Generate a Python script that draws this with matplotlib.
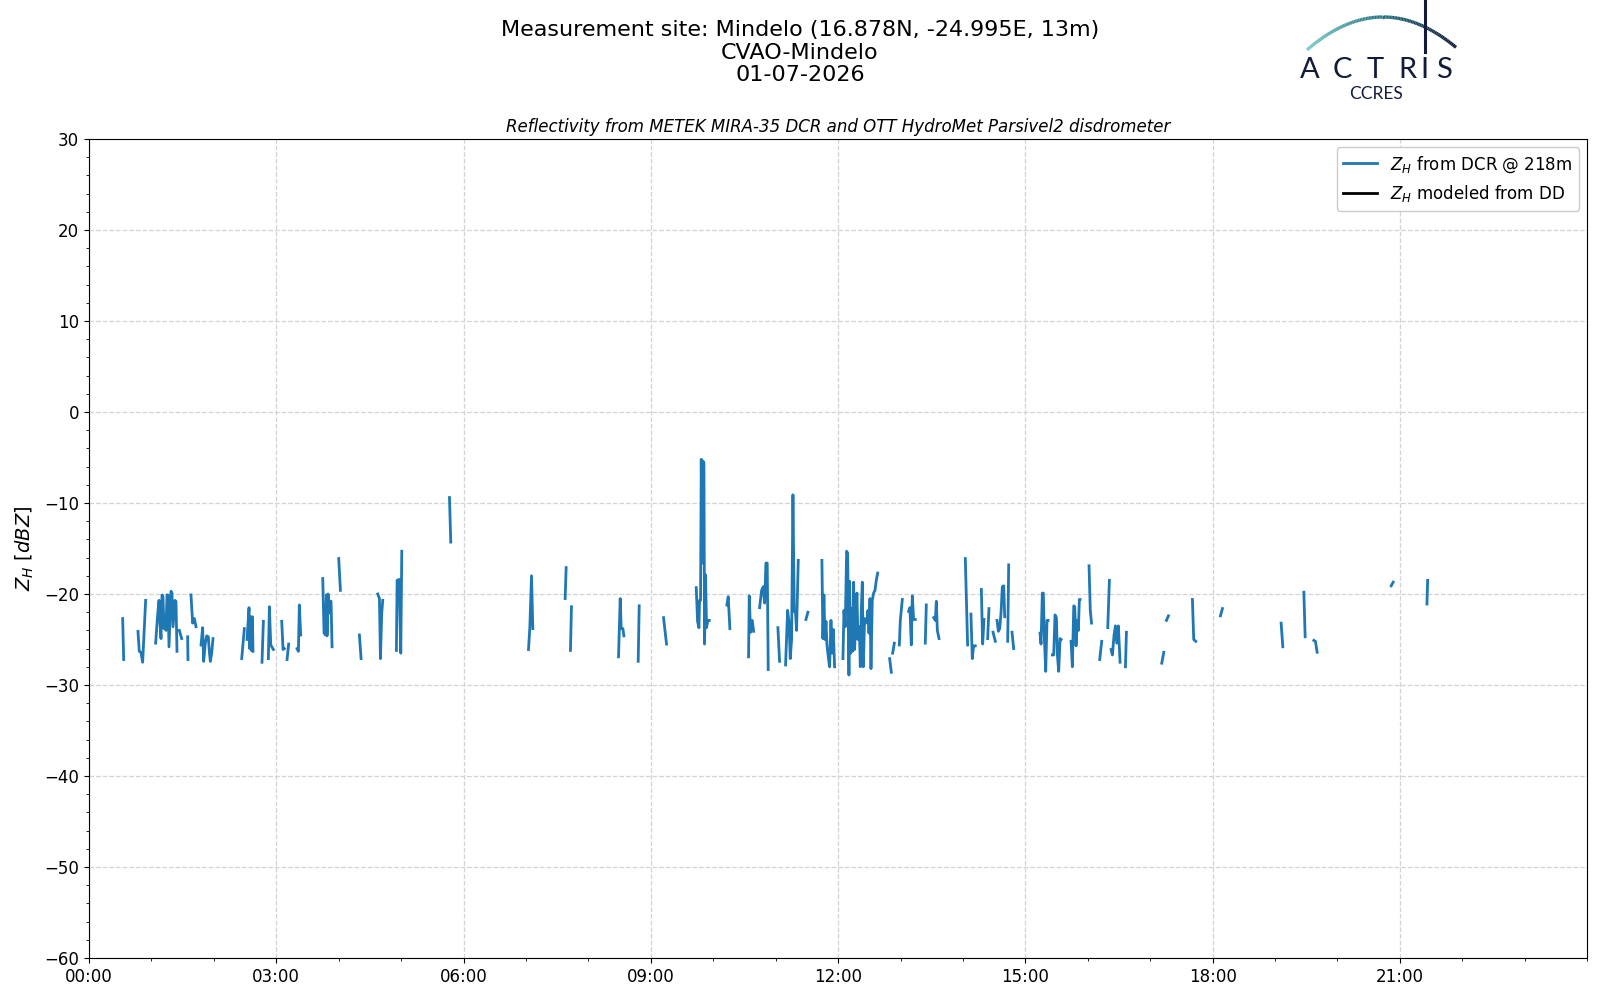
import numpy as np
import matplotlib
matplotlib.use("Agg")
import matplotlib.pyplot as plt
import matplotlib.dates as mdates
from matplotlib.collections import LineCollection
from datetime import datetime, timedelta

# site / meta
site_name = "Mindelo"
site_lat, site_lon, site_alt = 16.878, -24.995, 13
station = "CVAO-Mindelo"
day = datetime(2026, 7, 1)
radar_gate = 218

# DCR reflectivity: hours after midnight and Z_H [dBZ], one list per rain burst
seg_hours = [
    [0.540, 0.556],
    [0.785, 0.806, 0.833, 0.860, 0.908],
    [1.068, 1.100, 1.122, 1.138, 1.154, 1.170, 1.186, 1.202, 1.218, 1.234, 1.250,
     1.266, 1.282, 1.298, 1.314, 1.330, 1.346, 1.362, 1.378, 1.394, 1.410],
    [1.448, 1.485],
    [1.581, 1.586],
    [1.634, 1.661, 1.688, 1.715],
    [1.795, 1.821, 1.837, 1.864, 1.886, 1.912, 1.928, 1.944, 1.966, 1.987],
    [2.447, 2.489],
    [2.532, 2.564, 2.575, 2.591, 2.602, 2.618, 2.628],
    [2.772, 2.794],
    [2.874, 2.890, 2.912, 2.928, 2.954],
    [3.088, 3.109, 3.130],
    [3.173, 3.199],
    [3.333, 3.355, 3.370, 3.392],
    [3.745, 3.766, 3.788, 3.804, 3.814, 3.830, 3.846, 3.862, 3.878, 3.894],
    [4.001, 4.028],
    [4.332, 4.359],
    [4.626, 4.653, 4.669, 4.690, 4.706],
    [4.925, 4.936, 4.968, 4.995, 5.011],
    [5.775, 5.796],
    [7.041, 7.062, 7.089, 7.110],
    [7.628, 7.644],
    [7.713, 7.729],
    [8.483, 8.510, 8.526, 8.553, 8.569],
    [8.798, 8.814],
    [9.204, 9.252],
    [9.728, 9.749, 9.771, 9.781, 9.797, 9.808, 9.824, 9.835, 9.851, 9.861, 9.877,
     9.893, 9.915, 9.936],
    [10.219, 10.240, 10.267],
    [10.566, 10.577, 10.598, 10.625, 10.647],
    [10.743, 10.775, 10.801, 10.823, 10.844, 10.865, 10.881],
    [11.036, 11.063],
    [11.159, 11.191, 11.213, 11.234, 11.255, 11.277, 11.298, 11.319, 11.335, 11.362],
    [11.485, 11.517],
    [11.741, 11.757, 11.773, 11.790, 11.806, 11.822, 11.848, 11.864, 11.886, 11.902,
     11.923, 11.944],
    [12.078, 12.094, 12.115, 12.137, 12.153, 12.174, 12.185, 12.201, 12.217, 12.233,
     12.249, 12.265, 12.286, 12.302, 12.318, 12.340, 12.356, 12.372, 12.388, 12.404,
     12.425, 12.441, 12.463, 12.479, 12.495, 12.511, 12.527, 12.548, 12.569, 12.591,
     12.612, 12.634],
    [12.826, 12.853],
    [12.874, 12.901],
    [12.981, 12.997, 13.029],
    [13.130, 13.151, 13.173, 13.189, 13.210, 13.237],
    [13.397, 13.413],
    [13.531, 13.558, 13.574, 13.590, 13.617],
    [14.038, 14.075],
    [14.128, 14.150, 14.171, 14.198],
    [14.295, 14.316, 14.337],
    [14.396, 14.417],
    [14.482, 14.519],
    [14.546, 14.568, 14.589, 14.610, 14.631, 14.653, 14.669],
    [14.717, 14.733],
    [14.786, 14.813],
    [15.235, 15.251, 15.272, 15.288, 15.304, 15.326, 15.347, 15.363],
    [15.433, 15.454, 15.475, 15.497, 15.513, 15.534, 15.556, 15.572],
    [15.732, 15.753, 15.775, 15.791, 15.812, 15.833, 15.849, 15.865, 15.876],
    [16.020, 16.040, 16.060],
    [16.191, 16.223],
    [16.320, 16.346],
    [16.373, 16.394, 16.421, 16.442, 16.464, 16.490, 16.517],
    [16.603, 16.619],
    [17.185, 17.217],
    [17.260, 17.292],
    [17.676, 17.697, 17.730],
    [18.125, 18.157],
    [19.097, 19.124],
    [19.461, 19.482],
    [19.621, 19.647, 19.674],
    [20.860, 20.892],
    [21.433, 21.444],
]

seg_zh = [
    [-22.7, -27.2],
    [-24.1, -26.3, -26.4, -27.5, -20.7],
    [-25.4, -22.3, -20.7, -23.2, -24.9, -20.1, -20.3, -23.8, -22.5, -24.0, -20.1,
     -20.1, -25.8, -22.9, -19.7, -19.9, -23.6, -22.1, -20.7, -20.8, -26.3],
    [-24.0, -24.9],
    [-24.7, -27.2],
    [-20.1, -23.2, -22.7, -23.6],
    [-25.6, -23.7, -27.4, -25.4, -24.6, -24.7, -26.3, -27.4, -26.5, -24.9],
    [-27.1, -23.8],
    [-25.0, -21.5, -26.0, -22.5, -26.2, -22.5, -26.3],
    [-27.5, -23.0],
    [-27.1, -21.4, -25.6, -25.8, -26.1],
    [-23.0, -26.1, -26.0],
    [-27.2, -25.5],
    [-26.0, -26.3, -21.2, -24.5],
    [-18.3, -24.3, -24.5, -20.1, -24.6, -20.0, -22.1, -20.8, -20.8, -25.8],
    [-16.1, -19.6],
    [-24.5, -27.1],
    [-20.0, -20.5, -27.1, -22.1, -20.7],
    [-26.2, -18.5, -18.4, -26.5, -15.3],
    [-9.4, -14.3],
    [-26.1, -23.7, -18.0, -23.8],
    [-20.5, -17.1],
    [-26.2, -21.4],
    [-26.9, -20.5, -23.8, -23.8, -24.6],
    [-27.4, -21.3],
    [-22.6, -25.5],
    [-19.3, -23.0, -23.7, -20.7, -20.7, -5.2, -16.6, -5.4, -5.6, -25.5, -17.9,
     -23.7, -22.9, -22.9],
    [-21.2, -20.3, -23.8],
    [-26.9, -20.2, -24.2, -22.9, -24.1],
    [-21.5, -19.6, -19.2, -21.0, -16.6, -16.6, -28.3],
    [-23.7, -27.4],
    [-27.8, -21.8, -23.0, -27.1, -25.0, -9.1, -21.9, -22.1, -24.0, -16.3],
    [-22.8, -22.0],
    [-16.3, -24.9, -20.1, -25.0, -23.0, -25.6, -27.2, -28.0, -22.9, -26.5,
     -23.9, -28.0],
    [-27.1, -21.8, -23.6, -15.3, -15.5, -28.9, -18.6, -26.5, -21.6, -26.3,
     -18.7, -26.1, -21.8, -19.9, -25.0, -23.6, -28.0, -21.8, -18.7, -28.0,
     -22.7, -23.2, -22.9, -21.8, -24.3, -20.5, -28.2, -20.7, -19.9, -19.6,
     -18.5, -17.7],
    [-27.1, -28.6],
    [-26.5, -25.4],
    [-25.6, -22.9, -20.6],
    [-21.9, -21.5, -25.6, -20.2, -22.8, -22.8],
    [-25.4, -21.2],
    [-22.6, -22.9, -20.8, -24.0, -24.9],
    [-16.1, -25.6],
    [-22.2, -27.1, -25.7, -25.7],
    [-19.5, -25.5, -22.8],
    [-24.9, -21.6],
    [-24.2, -25.2],
    [-22.9, -24.1, -23.8, -22.1, -19.2, -19.1, -22.5],
    [-25.2, -16.8],
    [-24.2, -26.0],
    [-24.3, -25.5, -19.9, -19.9, -24.7, -28.5, -22.9, -22.9],
    [-26.7, -26.7, -22.3, -22.6, -26.7, -28.5, -24.9, -25.0],
    [-25.2, -28.0, -21.3, -21.4, -25.7, -22.9, -24.0, -20.6, -20.6],
    [-16.9, -21.8, -23.2],
    [-27.2, -25.2],
    [-23.7, -18.5],
    [-26.1, -26.7, -24.5, -23.5, -25.4, -23.5, -27.5],
    [-28.0, -24.2],
    [-27.6, -26.4],
    [-22.9, -22.4],
    [-20.6, -25.0, -25.2],
    [-22.4, -21.6],
    [-23.2, -25.8],
    [-19.8, -24.7],
    [-25.1, -25.2, -26.4],
    [-19.1, -18.7],
    [-21.1, -18.5],
]

# join bursts into one series with NaN gaps
t_all, z_all = [], []
for hh, zz in zip(seg_hours, seg_zh):
    t_all += [day + timedelta(hours=h) for h in hh] + [day + timedelta(hours=hh[-1] + 0.003)]
    z_all += zz + [np.nan]

fig = plt.figure(figsize=(16, 10), dpi=100)
ax = fig.add_axes([0.0556, 0.042, 0.9364, 0.819])

ax.plot(t_all, z_all, color="#1f77b4", lw=2, label=r"$Z_H$ from DCR @ %dm" % radar_gate)
ax.plot([], [], color="k", lw=2, label=r"$Z_H$ modeled from DD")

ax.set_xlim(day, day + timedelta(hours=24))
ax.set_ylim(-60, 30)
ax.set_yticks(np.arange(-60, 31, 10))
ax.yaxis.set_minor_locator(matplotlib.ticker.MultipleLocator(2))
ax.set_xticks([day + timedelta(hours=h) for h in range(0, 24, 3)])
ax.xaxis.set_minor_locator(mdates.HourLocator())
ax.xaxis.set_major_formatter(mdates.DateFormatter("%H:%M"))
ax.tick_params(labelsize=12)
ax.grid(True, which="major", ls="--", color="lightgray", lw=0.9)
ax.set_ylabel(r"$Z_H$ [$dBZ$]", fontsize=14, labelpad=6)
ax.set_title("Reflectivity from METEK MIRA-35 DCR and OTT HydroMet Parsivel2 disdrometer",
             fontsize=12, style="italic", pad=5)
ax.legend(loc="upper right", fontsize=12, framealpha=1)

fig.text(0.5, 0.980, "Measurement site: %s (%.3fN, %.3fE, %dm)\n%s\n%s"
         % (site_name, site_lat, site_lon, site_alt, station, day.strftime("%d-%m-%Y")),
         ha="center", va="top", fontsize=16, linespacing=1.16)

# ACTRIS / CCRES logo, drawn in figure pixels (origin top-left)
lax = fig.add_axes([1290 / 1600, 1 - 105 / 1000, 180 / 1600, 105 / 1000])
lax.set_xlim(1290, 1470)
lax.set_ylim(105, 0)
lax.axis("off")
arc_x = np.linspace(1307, 1456, 100)
arc_y = 17 + 0.0057 * (arc_x - 1383) ** 2
pts = np.column_stack([arc_x, arc_y]).reshape(-1, 1, 2)
cmap = matplotlib.colors.LinearSegmentedColormap.from_list("actris", ["#7cc9c4", "#1f7180", "#141a3a"])
lc = LineCollection(np.concatenate([pts[:-1], pts[1:]], axis=1), cmap=cmap, lw=2.4)
lc.set_array(np.linspace(0, 1, 99))
lax.add_collection(lc)
lax.plot([1424.5, 1424.5], [1, 52], color="#141a3a", lw=2.2)
navy = "#141a3a"
for letter, xc in zip("ACTRIS", [1310, 1342, 1375, 1407, 1424.5, 1444]):
    lax.text(xc, 78, letter, ha="center", va="baseline", fontsize=21,
             family=["Lato", "DejaVu Sans"], color=navy)
lax.text(1376, 99, "CCRES", ha="center", va="baseline", fontsize=12.5,
         family=["Lato", "DejaVu Sans"], color=navy)

fig.savefig("out.png", dpi=100)
